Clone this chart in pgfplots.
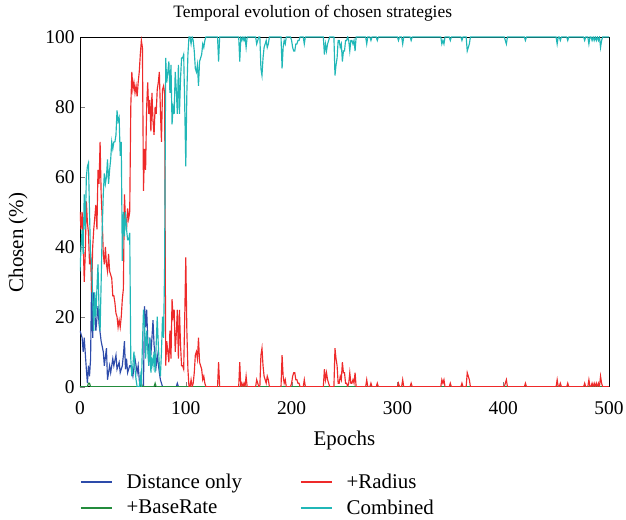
\documentclass[border=0pt]{standalone}
\usepackage{pgfplots}
\pgfplotsset{compat=1.18}
\usepackage{fontspec}
\setmainfont{Liberation Serif}

\definecolor{cdist}{RGB}{45,75,170}
\definecolor{crad}{RGB}{238,42,42}
\definecolor{cbase}{RGB}{35,140,60}
\definecolor{ccomb}{RGB}{32,183,183}

\pgfplotsset{
    legend image code/.code={\draw[#1, line width=1.4bp] (0bp,0bp) -- (31bp,0bp);},
}

\begin{document}
\begin{tikzpicture}
\begin{axis}[
    scale only axis,
    width=529bp, height=349.7bp,
    xmin=0, xmax=500, ymin=0, ymax=100,
    xtick={0,100,200,300,400,500},
    ytick={0,20,40,60,80,100},
    tick pos=left,
    tick align=inside,
    major tick length=5bp,
    axis line style={line width=0.8bp},
    /pgf/number format/assume math mode=true,
    tick label style={font=\fontsize{19.5}{20}\selectfont},
    xticklabel style={yshift=-11bp},
    yticklabel style={xshift=-2bp},
    title={Temporal evolution of chosen strategies},
    title style={font=\fontsize{17.5}{20}\selectfont, at={(axis description cs:0.44,1.052)}, anchor=center},
    xlabel={Epochs},
    xlabel style={font=\fontsize{21}{24}\selectfont, at={(axis description cs:0.5,-0.155)}, anchor=center},
    ylabel={Chosen (\%)},
    ylabel style={font=\fontsize{21}{24}\selectfont, at={(axis description cs:-0.117,0.412)}, anchor=center},
    legend columns=2,
    transpose legend,
    legend cell align=left,
    legend style={draw=none, fill=none, inner sep=0pt, at={(axis description cs:0,-0.243)}, anchor=north west,
        font=\fontsize{21}{24}\selectfont, row sep=6bp,
        /tikz/every odd column/.append style={column sep=12bp},
        /tikz/every even column/.append style={column sep=56bp}},
    every axis plot/.append style={line width=1.15bp},
]

\addplot[cdist] coordinates {
(0,16)(2,14)(3,10)(4,14)(6,5)(7,1)(8,6)(9,3)(10,8)(11,31)(12,14)(13,27)(15,16)(17,23)(18,18)(20,13)
(22,10)(23,6)(25,11)(26,2)(28,6)(29,4)(31,8)(32,6)(34,9)(35,5)(37,7)(38,4)(40,6)(41,9)(42,13)(43,5)
(44,8)(45,4)(47,6)(48,6)(50,3)(52,8)(54,4)(55,6)(56,2)(57,0)(60,0)(61,23)(62,17)(63,22)(65,6)(66,14)
(67,9)(69,19)(70,12)(72,6)(73,9)(75,4)(76,2)(78,0)(91,0)(92,1)(93,0)(500,0)
};
\addlegendentry{Distance only}

\addplot[cbase] coordinates {
(0,0)(7,0)(8,1)(9,1)(10,0)(57,0)(58,1)(59,0)(70,0)(71,1)(72,0)(500,0)
};
\addlegendentry{+BaseRate}

\addplot[crad] coordinates {
(0,50)(1,45)(2,50)(3,42)(4,30)(5,38)(6,53)(7,47)(8,44)(9,35)(10,38)(11,27)(12,40)(13,45)(15,52)(16,45)
(17,62)(18,58)(19,70)(20,55)(21,48)(22,38)(23,35)(24,40)(25,35)(26,33)(27,38)(28,33)(30,31)(31,26)
(32,26)(33,24)(34,21)(35,20)(36,17)(37,19)(38,17)(39,20)(40,25)(41,28)(42,55)(43,48)(44,45)(45,51)
(46,48)(47,50)(48,80)(49,90)(50,85)(51,87)(52,84)(53,86)(54,83)(55,87)(56,90)(57,95)(58,99)(59,97)
(60,56)(61,68)(62,62)(63,80)(64,87)(65,78)(66,82)(67,73)(68,84)(69,76)(70,72)(71,80)(72,78)(73,85)
(74,87)(75,90)(76,79)(77,70)(78,85)(79,86)(80,84)(81,6)(82,13)(83,10)(84,7)(85,16)(86,8)(87,25)
(88,20)(89,22)(90,10)(91,15)(92,22)(93,8)(94,22)(95,12)(96,6)(97,6)(98,5)(99,20)(100,37)(101,16)
(102,5)(103,0)(104,0)(105,2)(106,0)(107,1)(108,4)(109,9)(110,10)(111,8)(112,14)(113,7)(114,6)(115,5)
(116,2)(117,3)(118,1)(119,0)
(130,0)(131,7)(132,0)(150,0)(151,7)(152,0)(153,1)(154,0)(155,1)(156,0)(157,3)(158,0)
(166,0)(167,2)(168,1)(169,0)(170,0)(171,9)(172,11)(173,6)(174,3)(175,2)(176,1)(177,3)(178,2)(179,0)
(190,0)(191,9)(192,3)(193,1)(194,2)(195,0)(199,0)(200,1)(201,3)(202,4)(203,4)(204,2)(205,2)(206,1)
(207,1)(208,0)(211,0)(212,2)(213,0)(230,0)(231,5)(232,2)(233,4)(234,2)(235,1)(236,0)
(240,0)(241,11)(242,8)(243,6)(244,1)(245,1)(246,3)(247,2)(248,7)(249,4)(250,4)(251,1)(252,1)(253,0)
(254,1)(255,4)(256,1)(257,1)(258,2)(259,1)(260,4)(261,0)(270,0)(271,2)(272,0)(274,0)(275,1)(276,0)
(280,0)(281,1)(282,0)(300,0)(301,1)(302,0)(304,0)(305,2)(306,0)(312,0)(313,1)(314,0)
(341,0)(342,2)(343,1)(344,2)(345,0)(349,0)(350,1)(351,0)(360,0)(361,1)(362,0)
(365,0)(366,4)(367,3)(368,2)(369,0)(401,0)(402,1)(403,2)(404,0)(420,0)(421,1)(422,0)
(450,0)(451,2)(452,0)(453,0)(454,1)(455,0)(460,0)(461,1)(462,0)(476,0)(477,1)(478,0)
(480,0)(481,2)(482,0)(483,0)(484,1)(485,0)(486,1)(487,0)(488,1)(489,0)(490,1)(491,0)(492,3)(493,1)
(494,0)(500,0)
};
\addlegendentry{+Radius}

\addplot[ccomb] coordinates {
(0,33)(1,40)(2,45)(3,38)(4,55)(5,45)(6,60)(7,63)(8,64)(9,50)(10,37)(11,36)(12,25)(13,16)(14,27)(15,20)
(16,28)(17,35)(18,22)(19,16)(20,30)(21,45)(22,55)(23,61)(24,58)(25,60)(26,65)(27,58)(28,62)(29,65)
(30,70)(31,68)(32,70)(33,70)(34,72)(35,79)(36,76)(37,77)(38,66)(39,70)(40,36)(41,50)(42,43)(43,50)
(44,45)(45,42)(46,42)(47,44)(48,8)(49,3)(50,6)(51,10)(52,5)(53,2)(54,0)(55,0)(56,0)(57,3)(58,0)
(59,12)(60,22)(61,18)(62,8)(63,16)(64,11)(65,6)(66,14)(67,4)(68,8)(69,6)(70,10)(71,4)(72,12)(73,20)
(74,12)(75,6)(76,3)(77,10)(78,20)(79,14)(80,35)(81,94)(82,87)(83,90)(84,93)(85,84)(86,92)(87,75)
(88,80)(89,78)(90,90)(91,85)(92,78)(93,92)(94,78)(95,88)(96,94)(97,94)(98,95)(99,80)(100,63)(101,84)
(102,95)(103,100)(104,100)(105,98)(106,100)(107,99)(108,96)(109,91)(110,90)(111,92)(112,86)(113,93)
(114,94)(115,95)(116,98)(117,97)(118,99)(119,100)
(130,100)(131,93)(132,100)(150,100)(151,93)(152,100)(153,99)(154,100)(155,99)(156,100)(157,97)(158,100)
(166,100)(167,98)(168,99)(169,100)(170,100)(171,91)(172,89)(173,94)(174,97)(175,98)(176,99)(177,97)
(178,98)(179,100)(190,100)(191,91)(192,97)(193,99)(194,98)(195,100)(199,100)(200,99)(201,97)(202,96)
(203,96)(204,98)(205,98)(206,99)(207,99)(208,100)(211,100)(212,98)(213,100)(230,100)(231,95)(232,98)
(233,96)(234,98)(235,99)(236,100)(240,100)(241,89)(242,92)(243,94)(244,99)(245,99)(246,97)(247,98)
(248,93)(249,96)(250,96)(251,99)(252,99)(253,100)(254,99)(255,96)(256,99)(257,99)(258,98)(259,99)
(260,96)(261,100)(270,100)(271,98)(272,100)(274,100)(275,99)(276,100)(280,100)(281,99)(282,100)
(300,100)(301,99)(302,100)(304,100)(305,98)(306,100)(312,100)(313,99)(314,100)
(341,100)(342,98)(343,99)(344,98)(345,100)(349,100)(350,99)(351,100)(360,100)(361,99)(362,100)
(365,100)(366,96)(367,97)(368,98)(369,100)(401,100)(402,99)(403,98)(404,100)(420,100)(421,99)(422,100)
(450,100)(451,98)(452,100)(453,100)(454,99)(455,100)(460,100)(461,99)(462,100)(476,100)(477,99)(478,100)
(480,100)(481,98)(482,100)(483,100)(484,99)(485,100)(486,99)(487,100)(488,99)(489,100)(490,99)(491,100)
(492,97)(493,99)(494,100)(500,100)
};
\addlegendentry{Combined}

\end{axis}
\pgfresetboundingbox
\path (-80bp,-133.3bp) rectangle (546bp,386.7bp);
\end{tikzpicture}
\end{document}
